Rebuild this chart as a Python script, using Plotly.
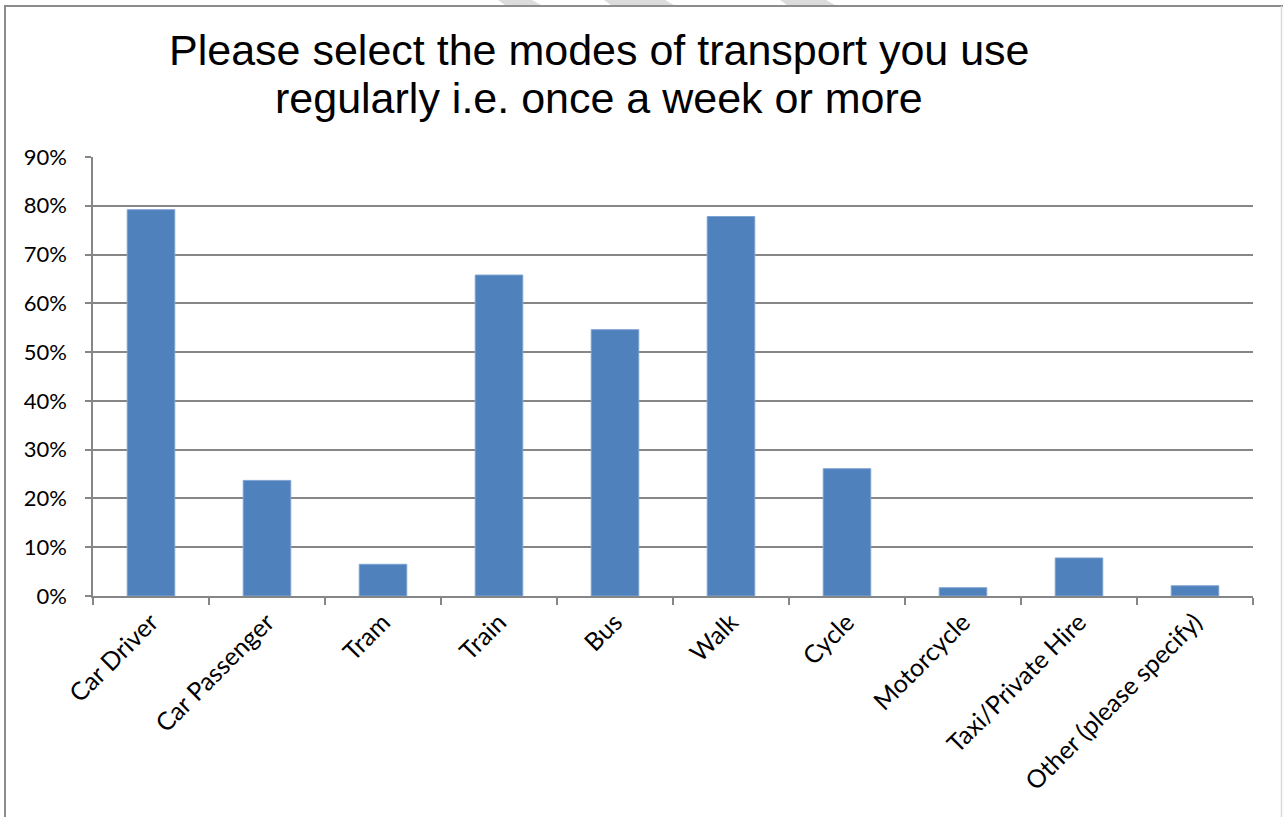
import plotly.graph_objects as go

# Survey responses: share of respondents using each mode at least weekly
modes = ["Car Driver", "Car Passenger", "Tram", "Train", "Bus", "Walk",
         "Cycle", "Motorcycle", "Taxi/Private Hire", "Other (please specify)"]
share = [0.792, 0.237, 0.065, 0.658, 0.546, 0.778, 0.261, 0.017, 0.078, 0.021]
y_ticks = [0, 0.1, 0.2, 0.3, 0.4, 0.5, 0.6, 0.7, 0.8, 0.9]
y_tick_text = ["0%", "10%", "20%", "30%", "40%", "50%", "60%", "70%", "80%", "90%"]
title_lines = ["Please select the modes of transport you use",
               "regularly i.e. once a week or more"]

W, H = 1283, 817
L, R, T, B = 93, 30, 157, 221
PW, PH = W - L - R, H - T - B

def px(x):
    return (x - L) / PW

def py(y):
    return (H - B - y) / PH

fig = go.Figure(go.Bar(
    x=modes, y=share,
    marker=dict(color="#4F81BD", line=dict(color="#7FA3D1", width=1)),
    width=0.41,
))

shapes = [
    # chart frame
    dict(type="line", xref="paper", yref="paper", x0=px(5), x1=px(5), y0=py(6), y1=py(830),
         line=dict(color="#8C8C8C", width=2)),
    dict(type="line", xref="paper", yref="paper", x0=px(4), x1=px(1283), y0=py(6), y1=py(6),
         line=dict(color="#8C8C8C", width=2)),
    dict(type="line", xref="paper", yref="paper", x0=px(1281.5), x1=px(1281.5), y0=py(6), y1=py(830),
         line=dict(color="#D9D9D9", width=1.5)),
]
# faint diagonal stripes along the top edge
for x0, x1 in [(498, 532), (604, 665), (780, 826)]:
    pts = [(x0, 0), (x1, 0), (x1 + 9, 5), (x0 + 7, 5)]
    path = "M " + " L ".join(f"{px(a)},{py(b)}" for a, b in pts) + " Z"
    shapes.append(dict(type="path", xref="paper", yref="paper", path=path,
                       fillcolor="#DCDCDC", line=dict(width=0), layer="below"))

# two-line heading, each line placed on its own
annotations = []
for text, cy in zip(title_lines, [50, 98]):
    annotations.append(dict(
        text=text, xref="paper", yref="paper", x=px(599), y=py(cy),
        xanchor="center", yanchor="middle", showarrow=False,
        font=dict(family="Liberation Sans, Arial", size=43, color="black"),
    ))

fig.update_layout(
    width=W, height=H,
    margin=dict(l=L, r=R, t=T, b=B),
    paper_bgcolor="white", plot_bgcolor="white",
    showlegend=False,
    shapes=shapes,
    annotations=annotations,
    xaxis=dict(
        showgrid=False, showline=True, linecolor="#868686", linewidth=1.5,
        ticks="outside", tickson="boundaries", ticklen=7, tickcolor="#868686", tickwidth=1.5,
        tickangle=-45, tickfont=dict(family="Lato", size=25, color="black"),
    ),
    yaxis=dict(
        range=[0, 0.9], tickvals=y_ticks, ticktext=y_tick_text,
        showgrid=True, gridcolor="#868686", gridwidth=1.5,
        showline=True, linecolor="#868686", linewidth=1.5,
        ticks="outside", ticklen=6, tickcolor="#868686", tickwidth=1.5,
        ticklabelstandoff=14,
        tickfont=dict(family="Lato", size=22, color="black"),
        zeroline=False,
    ),
)

fig.write_html("out.html")
